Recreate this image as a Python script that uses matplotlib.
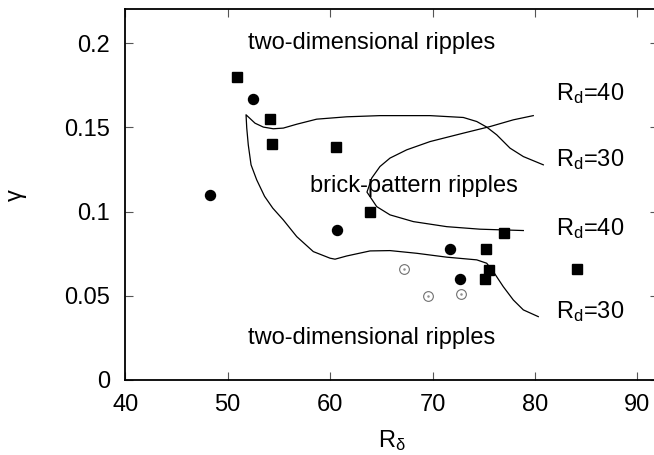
import matplotlib
matplotlib.use("Agg")
import matplotlib.pyplot as plt

plt.rcParams['font.family'] = ['Liberation Sans', 'DejaVu Sans']
plt.rcParams['mathtext.fontset'] = 'custom'
plt.rcParams['mathtext.rm'] = 'Liberation Sans'
plt.rcParams['mathtext.it'] = 'Liberation Sans:italic'
plt.rcParams['mathtext.bf'] = 'Liberation Sans:bold'

# Observed brick-pattern cases (filled squares)
sq_x = [50.9, 54.1, 54.3, 60.6, 63.9, 75.2, 75.5, 75.1, 77.0, 84.1]
sq_y = [0.180, 0.155, 0.140, 0.138, 0.100, 0.0776, 0.065, 0.060, 0.087, 0.066]

# Two-dimensional cases (filled circles)
fc_x = [48.3, 52.5, 60.7, 71.7, 72.7]
fc_y = [0.110, 0.167, 0.089, 0.078, 0.060]

# Transitional cases (open circles)
oc_x = [67.2, 69.6, 72.8]
oc_y = [0.066, 0.050, 0.051]

# Stability boundary for R_d = 30
b30_x = [80.82, 78.87, 77.57, 76.27, 75.29, 74.32, 73.01, 69.76, 64.87, 61.62,
         58.69, 56.74, 55.43, 54.45, 53.48, 52.67, 51.79,
         51.86, 52.01, 52.28, 52.83, 53.6, 54.4, 55.43, 56.74, 58.36, 59.99,
         60.48, 61.62, 63.90, 65.85, 68.46, 71.39, 74.32, 75.29, 75.94, 76.91,
         77.89, 78.87, 80.33]
b30_y = [0.1277, 0.1326, 0.1376, 0.1455, 0.1501, 0.1534, 0.1558, 0.1569, 0.1569,
         0.1562, 0.1548, 0.1518, 0.1495, 0.1491, 0.1501, 0.1524, 0.1574,
         0.1495, 0.1395, 0.1277, 0.1188, 0.1090, 0.1020, 0.0950, 0.0851, 0.0762,
         0.0723, 0.0717, 0.0736, 0.0766, 0.0768, 0.0752, 0.0729, 0.0713, 0.0693,
         0.0643, 0.0554, 0.0475, 0.0416, 0.0376]

# Stability boundary for R_d = 40
b40_x = [79.84, 77.89, 75.61, 73.01, 69.76, 67.48, 65.85, 64.87, 64.06, 63.73,
         63.60, 63.90, 64.55, 65.85, 68.13, 71.39, 74.64, 78.87]
b40_y = [0.1569, 0.1544, 0.1504, 0.1465, 0.1415, 0.1366, 0.1317, 0.1267, 0.1198,
         0.1138, 0.1115, 0.1088, 0.1029, 0.0980, 0.0940, 0.0910, 0.0895, 0.0887]

x_ticks = [40, 50, 60, 70, 80, 90]
y_ticks = [0, 0.05, 0.1, 0.15, 0.2]
y_tick_labels = ['0', '0.05', '0.1', '0.15', '0.2']

FS = 17

fig = plt.figure(figsize=(6.54, 4.55), dpi=100)
ax = fig.add_axes([125.3 / 654, 75 / 455, 532.5 / 654, 370.7 / 455])

ax.plot(b30_x, b30_y, color='black', lw=0.9)
ax.plot(b40_x, b40_y, color='black', lw=0.9)

ax.plot(sq_x, sq_y, linestyle='none', marker='s', markersize=6.5,
        color='black')
ax.plot(fc_x, fc_y, linestyle='none', marker='o', markersize=7.2,
        color='black')
ax.plot(oc_x, oc_y, linestyle='none', marker='o', markersize=7.0,
        markerfacecolor='none', markeredgecolor='#707070', markeredgewidth=0.8)
ax.plot(oc_x, oc_y, linestyle='none', marker='o', markersize=0.8,
        color='#909090')

ax.text(52.0, 0.200, 'two-dimensional ripples', fontsize=FS, va='center',
        ha='left')
ax.text(52.0, 0.0248, 'two-dimensional ripples', fontsize=FS, va='center',
        ha='left')
ax.text(58.0, 0.1152, 'brick-pattern ripples', fontsize=FS, va='center',
        ha='left')

ax.text(82.06, 0.1663, r'R$_\mathrm{d}$=40', fontsize=FS, va='baseline')
ax.text(82.06, 0.1267, r'R$_\mathrm{d}$=30', fontsize=FS, va='baseline')
ax.text(82.06, 0.0861, r'R$_\mathrm{d}$=40', fontsize=FS, va='baseline')
ax.text(82.06, 0.0366, r'R$_\mathrm{d}$=30', fontsize=FS, va='baseline')

ax.set_xlim(40, 92)
ax.set_ylim(0, 0.22)
ax.set_xticks(x_ticks)
ax.set_yticks(y_ticks)
ax.set_yticklabels(y_tick_labels)
ax.tick_params(direction='in', length=6, width=0.8, color='#555555',
               labelsize=FS, top=True, right=True)
ax.tick_params(axis='x', pad=10)
ax.tick_params(axis='y', pad=11)
for s in ax.spines.values():
    s.set_linewidth(1.3)

ax.set_xlabel(r'R$_\mathrm{\delta}$', fontsize=FS, labelpad=9)
ax.set_ylabel('γ', fontsize=FS, labelpad=27)

fig.savefig('out.png', dpi=100)
